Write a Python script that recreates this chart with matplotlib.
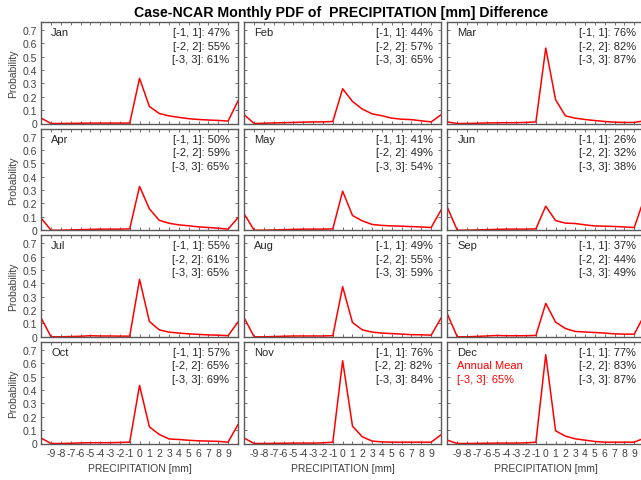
import numpy as np
import matplotlib
matplotlib.use('Agg')
import matplotlib.pyplot as plt

plt.rcParams['font.family'] = ['Liberation Sans', 'DejaVu Sans']
plt.rcParams['axes.unicode_minus'] = False

# bins of the precipitation difference [mm]
BINS = list(range(-10, 11))
XTICKS = list(range(-9, 10))
YTICKS = [0, 0.1, 0.2, 0.3, 0.4, 0.5, 0.6, 0.7]
YTICK_LABELS = ['0', '0.1', '0.2', '0.3', '0.4', '0.5', '0.6', '0.7']

MONTHS = ['Jan', 'Feb', 'Mar', 'Apr', 'May', 'Jun',
          'Jul', 'Aug', 'Sep', 'Oct', 'Nov', 'Dec']

# probability per bin
jan = [0.040, 0.000, 0.000, 0.001, 0.002, 0.003, 0.003, 0.003, 0.003, 0.003, 0.338,
       0.128, 0.075, 0.057, 0.046, 0.036, 0.030, 0.026, 0.023, 0.018, 0.168]
feb = [0.065, 0.000, 0.002, 0.004, 0.006, 0.008, 0.010, 0.012, 0.012, 0.015, 0.260,
       0.165, 0.108, 0.072, 0.058, 0.040, 0.032, 0.029, 0.020, 0.012, 0.065]
mar = [0.012, 0.000, 0.000, 0.002, 0.004, 0.005, 0.006, 0.006, 0.008, 0.012, 0.565,
       0.178, 0.057, 0.040, 0.030, 0.022, 0.015, 0.010, 0.008, 0.008, 0.020]
apr = [0.090, 0.000, 0.000, 0.002, 0.004, 0.006, 0.008, 0.008, 0.008, 0.010, 0.328,
       0.160, 0.074, 0.052, 0.040, 0.033, 0.025, 0.020, 0.015, 0.008, 0.092]
may = [0.120, 0.000, 0.000, 0.002, 0.004, 0.006, 0.008, 0.008, 0.008, 0.010, 0.292,
       0.110, 0.070, 0.043, 0.036, 0.032, 0.030, 0.027, 0.024, 0.020, 0.150]
jun = [0.170, 0.000, 0.000, 0.002, 0.004, 0.006, 0.008, 0.008, 0.008, 0.010, 0.180,
       0.072, 0.053, 0.050, 0.040, 0.032, 0.030, 0.028, 0.024, 0.020, 0.235]
jul = [0.140, 0.000, 0.000, 0.002, 0.004, 0.008, 0.006, 0.006, 0.005, 0.005, 0.430,
       0.115, 0.052, 0.035, 0.028, 0.022, 0.018, 0.014, 0.012, 0.008, 0.110]
aug = [0.140, 0.000, 0.000, 0.002, 0.004, 0.006, 0.006, 0.006, 0.006, 0.008, 0.375,
       0.107, 0.052, 0.035, 0.028, 0.024, 0.020, 0.016, 0.015, 0.012, 0.140]
sep = [0.170, 0.000, 0.000, 0.003, 0.006, 0.010, 0.008, 0.008, 0.008, 0.010, 0.250,
       0.110, 0.062, 0.040, 0.036, 0.032, 0.028, 0.022, 0.020, 0.020, 0.160]
oct_ = [0.040, 0.000, 0.000, 0.002, 0.004, 0.006, 0.006, 0.006, 0.008, 0.010, 0.435,
        0.125, 0.068, 0.034, 0.030, 0.024, 0.020, 0.018, 0.016, 0.010, 0.140]
nov = [0.040, 0.000, 0.000, 0.001, 0.002, 0.003, 0.003, 0.003, 0.005, 0.010, 0.620,
       0.130, 0.050, 0.018, 0.012, 0.010, 0.010, 0.010, 0.010, 0.010, 0.065]
dec = [0.025, 0.000, 0.000, 0.001, 0.002, 0.003, 0.003, 0.003, 0.005, 0.010, 0.665,
       0.095, 0.055, 0.035, 0.025, 0.015, 0.010, 0.010, 0.010, 0.010, 0.040]
PDFS = [jan, feb, mar, apr, may, jun, jul, aug, sep, oct_, nov, dec]

# percentage of values inside [-1,1], [-2,2], [-3,3]
pct_1 = [47, 44, 76, 50, 41, 26, 55, 49, 37, 57, 76, 77]
pct_2 = [55, 57, 82, 59, 49, 32, 61, 55, 44, 65, 82, 83]
pct_3 = [61, 65, 87, 65, 54, 38, 65, 59, 49, 69, 84, 87]
ANNUAL_MEAN_3 = 65

TEXT_C  = '#262626'
TICK_C  = '#404040'
FRAME_C = '#5a5a5a'
LINE_C  = '#ff0000'

fig = plt.figure(figsize=(6.41, 4.81), dpi=100)

W, H = 641.0, 481.0
col_left = [41.2, 244.3, 447.4]
row_top  = [23.0, 129.7, 236.3, 343.0]
ax_w, ax_h = 196.7, 101.5

for i, (month, pdf) in enumerate(zip(MONTHS, PDFS)):
    r, c = divmod(i, 3)
    ax = fig.add_axes([col_left[c] / W, 1 - (row_top[r] + ax_h) / H, ax_w / W, ax_h / H])
    ax.plot(BINS, pdf, color=LINE_C, linewidth=1.1)
    ax.set_xlim(-10, 10)
    ax.set_ylim(0, 0.76)
    ax.set_xticks(XTICKS)
    ax.set_yticks(YTICKS)
    ax.tick_params(direction='in', top=True, right=True, length=2.5, width=0.6,
                   color=FRAME_C, labelsize=7.5, labelcolor=TICK_C, pad=3)
    for sp in ax.spines.values():
        sp.set_color(FRAME_C)
        sp.set_linewidth(1.0)

    if c == 0:
        ax.set_yticklabels(YTICK_LABELS)
        ax.set_ylabel('Probability', fontsize=7.5, color=TICK_C, labelpad=3)
    else:
        ax.set_yticklabels([])
    if r == 3:
        ax.set_xticklabels([str(v) for v in XTICKS])
        ax.set_xlabel('PRECIPITATION [mm]', fontsize=7.5, color=TICK_C, labelpad=4)
    else:
        ax.set_xticklabels([])

    ys = [1 - 10 / ax_h, 1 - 23.5 / ax_h, 1 - 37 / ax_h]
    ax.text(0.051, ys[0], month, transform=ax.transAxes, ha='left', va='center',
            fontsize=8, color=TEXT_C)
    lines = [f'[-1, 1]: {pct_1[i]}%', f'[-2, 2]: {pct_2[i]}%', f'[-3, 3]: {pct_3[i]}%']
    for y, s in zip(ys, lines):
        ax.text(0.957, y, s, transform=ax.transAxes, ha='right', va='center',
                fontsize=8, color=TEXT_C)
    if month == 'Dec':
        ax.text(0.051, ys[1], 'Annual Mean', transform=ax.transAxes, ha='left',
                va='center', fontsize=8, color=LINE_C)
        ax.text(0.051, ys[2], f'[-3, 3]: {ANNUAL_MEAN_3}%', transform=ax.transAxes,
                ha='left', va='center', fontsize=8, color=LINE_C)

# title centred over the block of panels
fig.text(341.5 / W, 1 - 12.5 / H, 'Case-NCAR Monthly PDF of  PRECIPITATION [mm] Difference',
         ha='center', va='center', fontsize=10.2, fontweight='bold', color='black')

fig.savefig('out.png', dpi=100)
